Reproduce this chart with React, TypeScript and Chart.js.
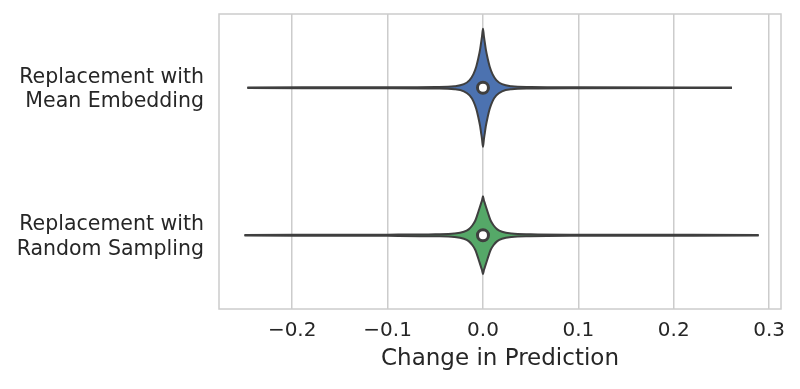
import React, { useEffect, useRef } from "react";
import { Chart, registerables } from "chart.js";

Chart.register(...registerables);

// ---- data ----
const CATEGORIES: string[][] = [
  ["Replacement with", "Mean Embedding"],
  ["Replacement with", "Random Sampling"],
];
const X_TICKS = [-0.2, -0.1, 0.0, 0.1, 0.2, 0.3];
const X_MIN = -0.2767;
const X_MAX = 0.3124;
const X_LABEL = "Change in Prediction";

// density profile (relative to widest violin)
const MEAN_VALUES = [-0.247, -0.1, -0.05, -0.03, -0.02, -0.014, -0.01, -0.007, -0.005, -0.003, -0.002, -0.001, 0, 0.001, 0.002, 0.003, 0.005, 0.007, 0.01, 0.014, 0.02, 0.03, 0.05, 0.1, 0.261];
const MEAN_DENSITY = [0.006, 0.008, 0.013, 0.025, 0.06, 0.13, 0.23, 0.36, 0.49, 0.65, 0.76, 0.87, 1.0, 0.87, 0.76, 0.65, 0.49, 0.36, 0.23, 0.13, 0.06, 0.025, 0.013, 0.008, 0.006];

const RANDOM_VALUES = [-0.25, -0.1, -0.05, -0.03, -0.02, -0.015, -0.011, -0.008, -0.006, -0.004, -0.002, -0.001, 0, 0.001, 0.002, 0.004, 0.006, 0.008, 0.011, 0.015, 0.02, 0.03, 0.05, 0.1, 0.289];
const RANDOM_DENSITY = [0.006, 0.01, 0.017, 0.03, 0.06, 0.1, 0.17, 0.25, 0.34, 0.44, 0.54, 0.59, 0.66, 0.59, 0.54, 0.44, 0.34, 0.25, 0.17, 0.1, 0.06, 0.03, 0.017, 0.01, 0.006];

const MEDIANS = [0.0, 0.0];
const COLORS = ["#4C72B0", "#55A868"];

// ---- styles ----
const GRAY = "#3f3f3f";
const GRID = "#cccccc";
const TEXT = "#262626";
const FONT = "'DejaVu Sans', sans-serif";
const HALF = 0.4;

const frame = {
  id: "frame",
  beforeDatasetsDraw(chart: any) {
    const { ctx, chartArea: a } = chart;
    ctx.save();
    ctx.strokeStyle = GRID;
    ctx.lineWidth = 1.5;
    ctx.strokeRect(a.left, a.top, a.right - a.left, a.bottom - a.top);
    ctx.restore();
  },
};

export default function App() {
  const ref = useRef<HTMLCanvasElement>(null);
  useEffect(() => {
    const violins = [
      { values: MEAN_VALUES, dens: MEAN_DENSITY },
      { values: RANDOM_VALUES, dens: RANDOM_DENSITY },
    ];
    const datasets: any[] = [
      {
        type: "scatter",
        data: MEDIANS.map((m, i) => ({ x: m, y: i })),
        pointRadius: 5.5,
        pointBackgroundColor: "#ffffff",
        pointBorderColor: GRAY,
        pointBorderWidth: 3,
        showLine: false,
      },
    ];
    violins.forEach((v, i) => {
      datasets.push({
        type: "line",
        data: v.values.map((x, k) => ({ x, y: i - HALF * v.dens[k] })),
        borderColor: GRAY,
        borderWidth: 2,
        pointRadius: 0,
        fill: false,
        cubicInterpolationMode: "monotone",
      });
      datasets.push({
        type: "line",
        data: v.values.map((x, k) => ({ x, y: i + HALF * v.dens[k] })),
        borderColor: GRAY,
        borderWidth: 2,
        pointRadius: 0,
        backgroundColor: COLORS[i],
        fill: "-1",
        cubicInterpolationMode: "monotone",
      });
    });

    const chart = new Chart(ref.current!, {
      type: "line",
      data: { datasets },
      plugins: [frame],
      options: {
        animation: false,
        responsive: true,
        maintainAspectRatio: false,
        layout: { padding: { top: 14, right: 19, left: 0, bottom: 0 } },
        plugins: { legend: { display: false }, tooltip: { enabled: false } },
        scales: {
          x: {
            type: "linear",
            min: X_MIN,
            max: X_MAX,
            afterBuildTicks: (s: any) => {
              s.ticks = X_TICKS.map((v) => ({ value: v }));
            },
            afterFit: (s: any) => {
              s.height = 80;
              s.paddingLeft = 0;
              s.paddingRight = 0;
            },
            grid: { color: GRID, lineWidth: 1.5, drawTicks: false },
            border: { display: false },
            ticks: {
              color: TEXT,
              padding: 10,
              font: { family: FONT, size: 20 },
              callback: (v: any) => (v < -1e-9 ? "\u2212" : "") + Math.abs(v).toFixed(1),
            },
            title: {
              display: true,
              text: X_LABEL,
              color: TEXT,
              font: { family: FONT, size: 23 },
              padding: { top: 0, bottom: 16 },
            },
          },
          y: {
            type: "linear",
            min: -0.5,
            max: 1.5,
            reverse: true,
            afterBuildTicks: (s: any) => {
              s.ticks = CATEGORIES.map((_, i) => ({ value: i }));
            },
            afterFit: (s: any) => {
              s.width = 219;
              s.paddingTop = 0;
              s.paddingBottom = 0;
            },
            grid: { display: false, drawTicks: false },
            border: { display: false },
            ticks: {
              color: TEXT,
              padding: 15,
              labelOffset: 2,
              font: { family: FONT, size: 20.5 },
              callback: (v: any) => CATEGORIES[Math.round(v)] as any,
            },
          },
        },
      } as any,
    });
    return () => chart.destroy();
  }, []);

  return (
    <div style={{ position: "absolute", left: 0, top: 0, width: 800, height: 389, background: "#fff" }}>
      <canvas ref={ref} />
    </div>
  );
}
